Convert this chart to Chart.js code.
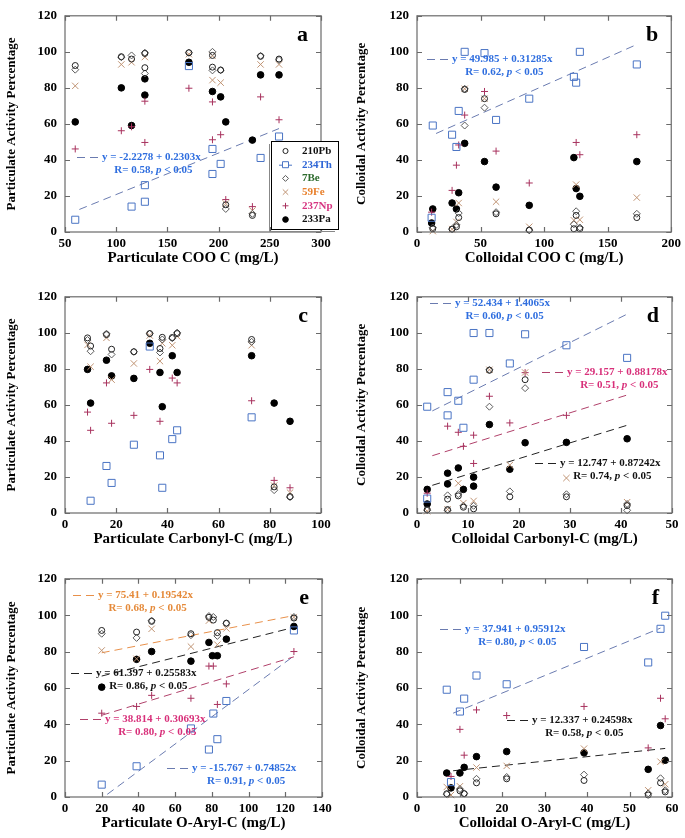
<!DOCTYPE html>
<html>
<head>
<meta charset="utf-8">
<script src="https://cdn.jsdelivr.net/npm/chart.js@4.4.0/dist/chart.umd.min.js"></script>
<style>
  html, body { margin: 0; padding: 0; background: #fff; }
  body { width: 685px; height: 838px; position: relative; overflow: hidden; }
  canvas { position: absolute; }
</style>
</head>
<body>
<canvas id="pa" width="340" height="272" style="left:0px;top:0px"></canvas>
<canvas id="pb" width="335" height="272" style="left:350px;top:0px"></canvas>
<canvas id="pc" width="340" height="272" style="left:0px;top:281px"></canvas>
<canvas id="pd" width="335" height="272" style="left:350px;top:281px"></canvas>
<canvas id="pe" width="340" height="274" style="left:0px;top:563px"></canvas>
<canvas id="pf" width="335" height="274" style="left:350px;top:563px"></canvas>
<script>
// series names (same order in every panel)
var seriesNames = ['210Pb', '234Th', '7Be', '59Fe', '237Np', '233Pa'];

// tick values
var yTicks = [0, 20, 40, 60, 80, 100, 120];
var xTicksA = [50, 100, 150, 200, 250, 300];
var xTicksB = [0, 50, 100, 150, 200];
var xTicksC = [0, 20, 40, 60, 80, 100];
var xTicksD = [0, 10, 20, 30, 40, 50];
var xTicksE = [0, 20, 40, 60, 80, 100, 120, 140];
var xTicksF = [0, 10, 20, 30, 40, 50, 60];

// panel a : particulate COO C
var a210Pb = [[60,92.4],[105,97.3],[115,96.0],[128,99.1],[128,91.2],[171,99.5],[194,91.5],[194,98.0],[202,89.9],[207,15.1],[233,9.2],[241,97.5],[259,96.0]];
var a234Th = [[60,6.8],[115,14.1],[128,26.0],[128,16.8],[171,92.1],[194,46.1],[194,32.2],[202,37.8],[241,41.1],[259,53.0]];
var a7Be = [[60,90.1],[105,97.0],[115,98.0],[128,99.5],[128,88.0],[171,99.5],[194,100],[194,89.7],[202,89.8],[207,12.8],[233,10.1],[241,97.8],[259,95.5]];
var a59Fe = [[60,81.1],[105,93.0],[115,94.2],[128,97.1],[171,98.7],[194,97.8],[194,84.3],[202,82.9],[207,15.8],[233,11.9],[241,93.0],[259,93.0]];
var a237Np = [[60,46.1],[105,56.2],[115,58.4],[128,72.6],[128,49.7],[171,79.8],[194,72.2],[194,51.2],[202,54.0],[207,18.0],[233,14.1],[241,75.0],[259,62.3]];
var a233Pa = [[60,61.1],[105,80.0],[115,59.1],[128,85.0],[128,76.0],[171,94.2],[194,78.0],[202,75.0],[207,61.1],[233,51.0],[241,87.2],[259,87.2]];
var aFitTh = [-2.2278, 0.2303, 0.58], aFitThX = [64, 259];

// panel b : colloidal COO C
var b210Pb = [[12.4,1.8],[27.6,1.6],[31,2.9],[32.8,8.0],[37.5,79.1],[53.1,74.0],[62.2,10.1],[88.3,1.1],[123.4,1.8],[125.2,9.2],[128.1,1.8],[172.9,8.0]];
var b234Th = [[11.5,7.9],[12.4,59.1],[27.6,54.0],[31,47.2],[32.8,67.2],[37.5,100],[53.1,99.3],[62.2,62.2],[88.3,74.0],[123.4,86.1],[125.2,82.9],[128.1,100],[172.9,93.0]];
var b7Be = [[12.4,2.5],[27.6,1.6],[31,4.0],[32.8,10.5],[37.5,59.1],[37.5,79.5],[53.1,69.0],[62.2,11.0],[88.3,1.0],[123.4,4.3],[125.2,11.5],[128.1,2.5],[172.9,10.1]];
var b59Fe = [[12.4,0.5],[27.6,1.5],[31,5.6],[32.8,16.1],[37.5,79.5],[53.1,74.0],[62.2,16.8],[88.3,2.9],[123.4,6.5],[125.2,26.3],[128.1,6.8],[172.9,19.1]];
var b237Np = [[11.5,11.0],[27.6,23.1],[31,37.1],[32.8,48.3],[37.5,64.9],[53.1,78.0],[62.2,44.9],[88.3,27.2],[125.2,49.7],[128.1,42.9],[172.9,54.0]];
var b233Pa = [[11.5,5.0],[12.4,12.8],[27.6,16.1],[31,12.8],[32.8,21.8],[37.5,49.2],[53.1,39.1],[62.2,24.9],[88.3,14.8],[123.4,41.3],[125.2,24.1],[128.1,19.8],[172.9,39.1]];
var bFitTh = [49.985, 0.31285, 0.62], bFitThX = [15, 173];

// panel c : particulate carbonyl-C
var c210Pb = [[8.8,97.2],[10,92.7],[16.2,99.0],[18.2,90.9],[26.9,89.5],[33.1,99.6],[37.1,91.3],[38,97.5],[41.9,97.4],[43.8,99.6],[72.9,96.3],[81.7,14.5],[87.9,9.1]];
var c234Th = [[10,6.8],[16.2,26.1],[18.2,16.7],[26.9,37.9],[33.1,92.4],[37.1,32.0],[38,14.0],[41.9,41.0],[43.8,45.9],[72.9,53.1]];
var c7Be = [[8.8,96.0],[10,89.8],[16.2,99.5],[18.2,88.0],[26.9,89.5],[33.1,99.5],[37.1,89.1],[38,96.3],[41.9,97.0],[43.8,100.1],[72.9,95.0],[81.7,12.7],[87.9,8.8]];
var c59Fe = [[8.8,93.3],[10,81.2],[16.2,97.2],[18.2,74.0],[26.9,83.0],[33.1,98.5],[37.1,84.3],[38,94.2],[41.9,93.1],[43.8,98.1],[72.9,93.1],[81.7,15.2],[87.9,11.3]];
var c237Np = [[8.8,56.0],[10,45.9],[16.2,72.2],[18.2,49.8],[26.9,54.2],[33.1,79.7],[37.1,50.9],[41.9,74.9],[43.8,72.2],[72.9,62.3],[81.7,18.1],[87.9,14.0]];
var c233Pa = [[8.8,79.7],[10,61.0],[16.2,84.8],[18.2,76.1],[26.9,74.7],[33.1,94.2],[37.1,78.0],[38,59.0],[41.9,87.3],[43.8,78.0],[72.9,87.3],[81.7,61.0],[87.9,50.9]];

// panel d : colloidal carbonyl-C
var d210Pb = [[2,1.9],[6,7.7],[6,1.9],[8.1,9.5],[9.1,3.2],[11.1,2.3],[14.2,79.2],[18.2,9.0],[21.2,74.0],[29.3,9.0],[41.2,4.1]];
var d234Th = [[2,59.0],[2,8.0],[6,67.1],[6,54.2],[8.1,62.3],[9.1,47.3],[11.1,74.0],[11.1,99.9],[14.2,99.9],[18.2,83.0],[21.2,99.2],[29.3,93.1],[41.2,86.1]];
var d7Be = [[2,1.5],[6,9.8],[6,1.5],[8.1,10.5],[9.1,4.0],[11.1,4.0],[14.2,59.0],[14.2,79.5],[18.2,12.0],[21.2,69.3],[29.3,10.4],[41.2,5.0],[41.2,1.5]];
var d59Fe = [[2,1.0],[6,2.0],[8.1,16.5],[9.1,5.5],[11.1,6.7],[14.2,79.5],[18.2,26.6],[21.2,78.0],[29.3,19.4],[41.2,6.0]];
var d237Np = [[2,11.0],[6,48.2],[8.1,44.8],[9.1,37.0],[11.1,43.2],[11.1,27.5],[14.2,64.8],[18.2,50.0],[21.2,77.9],[29.3,54.2]];
var d233Pa = [[2,13.1],[2,5.0],[6,22.1],[6,16.1],[8.1,25.0],[9.1,13.1],[11.1,19.9],[11.1,14.9],[14.2,49.1],[18.2,24.3],[21.2,39.0],[29.3,39.2],[41.2,41.2]];
var dFitTh = [52.434, 1.4065, 0.60], dFitThX = [3, 41.2];
var dFitNp = [29.157, 0.88178, 0.51], dFitNpX = [3, 41.2];
var dFitPa = [12.747, 0.87242, 0.74], dFitPaX = [3, 41.2];

// panel e : particulate O-aryl-C
var e210Pb = [[20,91.6],[39,90.7],[47.2,96.6],[68.6,89.8],[78.4,98.8],[80.8,97.3],[83,90.4],[87.9,95.6],[124.7,98.4]];
var e234Th = [[20,6.8],[39,16.9],[68.6,37.7],[78.4,26.1],[80.8,45.9],[83,31.8],[87.9,52.8],[124.7,91.6]];
var e7Be = [[20,89.8],[39,87.5],[47.2,97.0],[68.6,89.0],[78.4,99.5],[80.8,99.0],[83,88.6],[87.9,95.5],[124.7,99.0]];
var e59Fe = [[20,80.6],[39,76.0],[47.2,92.5],[68.6,82.7],[78.4,97.0],[83,83.8],[87.9,92.7],[124.7,98.8]];
var e237Np = [[20,46.1],[39,49.8],[47.2,55.9],[68.6,54.3],[78.4,72.0],[80.8,72.0],[83,50.9],[87.9,62.2],[124.7,80.0]];
var e233Pa = [[20,60.4],[39,75.7],[47.2,80.0],[68.6,74.7],[78.4,85.0],[80.3,77.7],[83,77.7],[87.9,86.8],[124.7,93.8]];
var eFitFe = [75.41, 0.19542, 0.68], eFitFeX = [20, 124.7];
var eFitPa = [61.397, 0.25583, 0.86], eFitPaX = [20, 124.7];
var eFitNp = [38.814, 0.30693, 0.80], eFitNpX = [20, 124.7];
var eFitTh = [-15.767, 0.74852, 0.91], eFitThX = [23, 124.7];

// panel f : colloidal O-aryl-C
var f210Pb = [[7,1.8],[10.1,3.4],[11.1,1.8],[14,7.8],[21.1,10.0],[39.3,9.1],[54.4,1.1],[57.3,7.8],[58.4,2.8]];
var f234Th = [[7,59.0],[8,8.2],[10.1,47.0],[11.1,54.1],[14,66.8],[21.1,62.0],[39.3,82.5],[54.4,74.0],[57.3,92.5],[58.4,99.7]];
var f7Be = [[7,1.5],[10.1,4.4],[11.1,2.0],[14,10.0],[21.1,11.0],[39.3,12.3],[54.4,2.0],[57.3,10.3],[58.4,3.7]];
var f59Fe = [[7,5.5],[8,1.1],[10.1,5.9],[14,16.2],[21.1,17.1],[39.3,26.6],[54.4,3.7],[57.3,19.4],[58.4,7.0]];
var f237Np = [[8,11.3],[10.1,37.2],[11.1,23.0],[14,47.9],[21.1,44.8],[39.3,49.8],[54.4,27.0],[57.3,54.3],[58.4,43.0]];
var f233Pa = [[7,13.2],[8,5.0],[10.1,13.2],[11.1,16.3],[14,22.2],[21.1,25.0],[39.3,24.3],[54.4,15.2],[57.3,39.3],[58.4,20.2]];
var fFitTh = [37.941, 0.95912, 0.80], fFitThX = [8.5, 57.3];
var fFitPa = [12.337, 0.24598, 0.58], fFitPaX = [8.5, 58.4];

// marker styles
var styles = {
  '210Pb': { shape: 'circle', r: 3, color: '#222', fill: 'rgba(0,0,0,0)', text: '#111' },
  '234Th': { shape: 'rect', r: 5, color: '#4a74c4', fill: 'rgba(0,0,0,0)', text: '#2f66d6' },
  '7Be':   { shape: 'rectRot', r: 3.5, color: '#5a5a5a', fill: 'rgba(0,0,0,0)', text: '#2d6b2d' },
  '59Fe':  { shape: 'crossRot', r: 4.5, color: '#c09474', fill: 'rgba(0,0,0,0)', text: '#e8802c' },
  '237Np': { shape: 'cross', r: 3.5, color: '#a8325e', fill: 'rgba(0,0,0,0)', text: '#d63480' },
  '233Pa': { shape: 'circle', r: 3.3, color: '#000', fill: '#000', text: '#111' }
};
var fitColors = {
  '234Th': { line: '#6a7bb0', text: '#2f6edf' },
  '237Np': { line: '#b0406a', text: '#d8307a' },
  '233Pa': { line: '#222', text: '#111' },
  '59Fe':  { line: '#e8904a', text: '#e58a3a' }
};

var SERIF = '"Liberation Serif", "Times New Roman", serif';

function fit(series, coef, xr, at) {
  return { series: series, b: coef[0], m: coef[1], r: coef[2], xr: xr, at: at };
}

var panels = [
  { id: 'pa', off: [0, 0], letter: 'a', xTicks: xTicksA, padR: 19, yw: 65,
    xTitle: 'Particulate COO C (mg/L)', yTitle: 'Particulate Activity Percentage',
    data: [a210Pb, a234Th, a7Be, a59Fe, a237Np, a233Pa],
    fits: [fit('234Th', aFitTh, aFitThX, [77, 157])], legend: true },
  { id: 'pb', off: [350, 0], letter: 'b', xTicks: xTicksB, padR: 13, yw: 67,
    xTitle: 'Colloidal COO C (mg/L)', yTitle: 'Colloidal Activity Percentage',
    data: [b210Pb, b234Th, b7Be, b59Fe, b237Np, b233Pa],
    fits: [fit('234Th', bFitTh, bFitThX, [427, 59])] },
  { id: 'pc', off: [0, 281], letter: 'c', xTicks: xTicksC, padR: 19, yw: 65,
    xTitle: 'Particulate Carbonyl-C (mg/L)', yTitle: 'Particulate Activity Percentage',
    data: [c210Pb, c234Th, c7Be, c59Fe, c237Np, c233Pa], fits: [] },
  { id: 'pd', off: [350, 281], letter: 'd', xTicks: xTicksD, padR: 13, yw: 67,
    xTitle: 'Colloidal Carbonyl-C (mg/L)', yTitle: 'Colloidal Activity Percentage',
    data: [d210Pb, d234Th, d7Be, d59Fe, d237Np, d233Pa],
    fits: [fit('234Th', dFitTh, dFitThX, [430, 303]), fit('237Np', dFitNp, dFitNpX, [542, 372]),
           fit('233Pa', dFitPa, dFitPaX, [535, 463])] },
  { id: 'pe', off: [0, 563], letter: 'e', xTicks: xTicksE, padR: 18, yw: 65,
    xTitle: 'Particulate O-Aryl-C (mg/L)', yTitle: 'Particulate Activity Percentage',
    data: [e210Pb, e234Th, e7Be, e59Fe, e237Np, e233Pa],
    fits: [fit('59Fe', eFitFe, eFitFeX, [73, 595]), fit('233Pa', eFitPa, eFitPaX, [71, 673]),
           fit('237Np', eFitNp, eFitNpX, [80, 719]), fit('234Th', eFitTh, eFitThX, [167, 768])] },
  { id: 'pf', off: [350, 563], letter: 'f', xTicks: xTicksF, padR: 13, yw: 67,
    xTitle: 'Colloidal O-Aryl-C (mg/L)', yTitle: 'Colloidal Activity Percentage',
    data: [f210Pb, f234Th, f7Be, f59Fe, f237Np, f233Pa],
    fits: [fit('234Th', fFitTh, fFitThX, [440, 629]), fit('233Pa', fFitPa, fFitPaX, [507, 720])] }
];

// frame, inward ticks, panel letter, fit labels and legend
var deco = {
  id: 'deco',
  afterDraw: function(chart, args, opts) {
    var ctx = chart.ctx, ca = chart.chartArea;
    var xs = chart.scales.x, ys = chart.scales.y;
    var p = opts.panel;
    ctx.save();
    ctx.strokeStyle = '#6a6a6a';
    ctx.lineWidth = 1.2;
    ctx.strokeRect(ca.left, ca.top, ca.right - ca.left, ca.bottom - ca.top);
    ctx.beginPath();
    xs.ticks.forEach(function(t) {
      var px = Math.round(xs.getPixelForValue(t.value)) + 0.5;
      ctx.moveTo(px, ca.bottom); ctx.lineTo(px, ca.bottom - 5);
      ctx.moveTo(px, ca.top); ctx.lineTo(px, ca.top + 5);
    });
    ys.ticks.forEach(function(t) {
      var py = Math.round(ys.getPixelForValue(t.value)) + 0.5;
      ctx.moveTo(ca.left, py); ctx.lineTo(ca.left + 5, py);
      ctx.moveTo(ca.right, py); ctx.lineTo(ca.right - 5, py);
    });
    ctx.stroke();

    ctx.fillStyle = '#000';
    ctx.font = 'bold 22px ' + SERIF;
    ctx.textAlign = 'right';
    ctx.textBaseline = 'middle';
    ctx.fillText(p.letter, ca.right - 13, ca.top + 20);

    p.fits.forEach(function(f) {
      var col = fitColors[f.series];
      var x = f.at[0] - p.off[0], y = f.at[1] - p.off[1];
      ctx.strokeStyle = col.line;
      ctx.lineWidth = 1;
      ctx.setLineDash([8, 5]);
      ctx.beginPath(); ctx.moveTo(x, y + 0.5); ctx.lineTo(x + 21, y + 0.5); ctx.stroke();
      ctx.setLineDash([]);
      ctx.font = 'bold 11px ' + SERIF;
      ctx.fillStyle = col.text;
      ctx.textAlign = 'left';
      var t1 = 'y = ' + f.b + ' + ' + f.m + 'x';
      ctx.fillText(t1, x + 25, y);
      var w1 = ctx.measureText(t1).width;
      var r1 = 'R= ' + f.r.toFixed(2) + ', ', r2 = 'p', r3 = ' < 0.05';
      var wA = ctx.measureText(r1).width, wC = ctx.measureText(r3).width;
      ctx.font = 'italic bold 11px ' + SERIF;
      var wB = ctx.measureText(r2).width;
      var sx = x + 25 + w1 / 2 + 2 - (wA + wB + wC) / 2, sy = y + 13;
      ctx.font = 'bold 11px ' + SERIF;
      ctx.fillText(r1, sx, sy);
      ctx.font = 'italic bold 11px ' + SERIF;
      ctx.fillText(r2, sx + wA, sy);
      ctx.font = 'bold 11px ' + SERIF;
      ctx.fillText(r3, sx + wA + wB, sy);
    });

    if (p.legend) {
      var bx = 271, by = 141, bw = 67, bh = 88;
      ctx.fillStyle = '#fff';
      ctx.fillRect(bx, by, bw, bh);
      ctx.strokeStyle = '#000';
      ctx.lineWidth = 1;
      ctx.strokeRect(bx + 0.5, by + 0.5, bw, bh);
      ctx.strokeStyle = '#888';
      ctx.beginPath();
      ctx.moveTo(bx - 1.5, by + 3); ctx.lineTo(bx - 1.5, by + bh + 2.5); ctx.lineTo(bx + bw - 3, by + bh + 2.5);
      ctx.stroke();
      chart.data.datasets.forEach(function(ds, i) {
        if (i >= seriesNames.length) return;
        var st = styles[ds.label];
        var ry = by + 10 + i * 13.7;
        if (ds.label === '234Th') {
          ctx.strokeStyle = st.color;
          ctx.beginPath(); ctx.moveTo(bx + 8, ry + 0.5); ctx.lineTo(bx + 21, ry + 0.5); ctx.stroke();
        }
        ctx.strokeStyle = st.color;
        ctx.fillStyle = st.fill === 'rgba(0,0,0,0)' ? '#fff' : st.fill;
        ctx.lineWidth = 1;
        Chart.helpers.drawPoint(ctx, { pointStyle: st.shape, radius: st.r * 0.85, borderWidth: 1 }, bx + 14.5, ry);
        ctx.font = 'bold 11px ' + SERIF;
        ctx.fillStyle = st.text;
        ctx.textAlign = 'left';
        ctx.textBaseline = 'middle';
        ctx.fillText(ds.label, bx + 31, ry);
      });
    }
    ctx.restore();
  }
};

function tickFont(size) {
  return { family: SERIF, weight: 'bold', size: size };
}

panels.forEach(function(p) {
  var datasets = [];
  seriesNames.forEach(function(name, i) {
    var st = styles[name];
    datasets.push({
      label: name,
      data: p.data[i].map(function(d) { return { x: d[0], y: d[1] }; }),
      pointStyle: st.shape,
      pointRadius: st.r,
      borderColor: st.color,
      backgroundColor: st.fill,
      pointBorderWidth: 1,
      showLine: false,
      clip: false
    });
  });
  p.fits.forEach(function(f) {
    datasets.push({
      label: 'fit ' + f.series,
      data: f.xr.map(function(x) { return { x: x, y: f.b + f.m * x }; }),
      showLine: true,
      pointRadius: 0,
      borderColor: fitColors[f.series].line,
      borderWidth: 1,
      borderDash: [8, 5],
      fill: false
    });
  });

  new Chart(document.getElementById(p.id), {
    type: 'scatter',
    data: { datasets: datasets },
    options: {
      responsive: false,
      animation: false,
      devicePixelRatio: 1,
      events: [],
      layout: { padding: { top: 10, right: p.padR, left: 0, bottom: 0 } },
      plugins: { legend: { display: false }, tooltip: { enabled: false }, deco: { panel: p } },
      scales: {
        x: {
          type: 'linear',
          min: p.xTicks[0],
          max: p.xTicks[p.xTicks.length - 1],
          afterBuildTicks: function(s) { s.ticks = p.xTicks.map(function(v) { return { value: v }; }); },
          afterFit: function(s) { s.height = 40; },
          grid: { display: false, drawTicks: false },
          border: { display: false },
          ticks: { font: tickFont(13), color: '#000', padding: 4, maxRotation: 0, autoSkip: false },
          title: { display: true, text: p.xTitle, font: tickFont(15), color: '#000', padding: { top: 0, bottom: 5 } }
        },
        y: {
          type: 'linear',
          min: 0,
          max: 120,
          afterBuildTicks: function(s) { s.ticks = yTicks.map(function(v) { return { value: v }; }); },
          afterFit: function(s) { s.width = p.yw; },
          grid: { display: false, drawTicks: false },
          border: { display: false },
          ticks: { font: tickFont(13), color: '#000', padding: 8 },
          title: { display: true, text: p.yTitle, font: tickFont(13), color: '#000', padding: { top: 4, bottom: 0 } }
        }
      }
    },
    plugins: [deco]
  });
});
</script>
</body>
</html>
